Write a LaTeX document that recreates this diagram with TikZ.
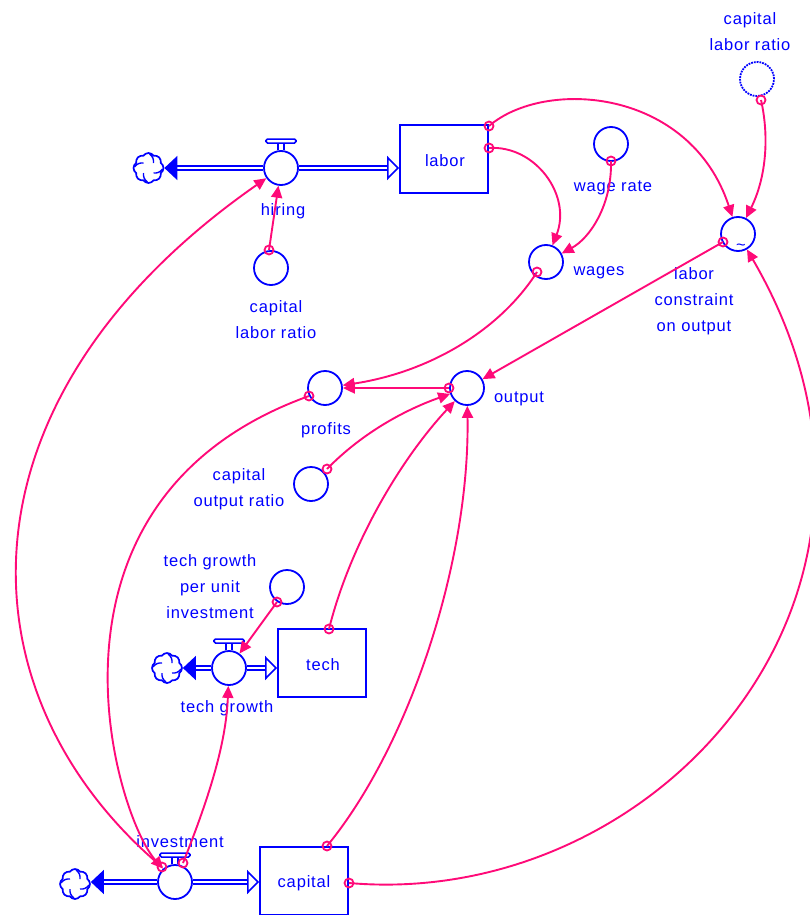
\documentclass[tikz,border=0pt]{standalone}
\usepackage{fontspec}
\setmainfont[LetterSpace=5]{Liberation Sans}
\usetikzlibrary{arrows.meta,shapes.symbols}
\definecolor{linkpink}{HTML}{FF0A78}
\tikzset{
  diagramtext/.style={text=blue,font=\fontsize{16.5}{26}\selectfont,align=center,inner sep=0pt},
  stock/.style={draw=blue,line width=1.8pt,minimum width=88pt,minimum height=68pt,inner sep=0pt},
  aux/.style={circle,draw=blue,line width=1.8pt,minimum size=34pt,inner sep=0pt},
  ghostaux/.style={aux,densely dotted},
  source/.style={cloud,cloud puffs=8,cloud puff arc=110,aspect=1,draw=blue,line width=1.7pt,minimum size=30pt,inner sep=0pt,
    path picture={
      \draw[blue,line width=1.4pt] (path picture bounding box.center) ++(1pt,14pt) to[bend left=30] ++(4pt,-9pt);
      \draw[blue,line width=1.4pt] (path picture bounding box.center) ++(14pt,-1pt) to[bend left=30] ++(-9pt,-4pt);
      \draw[blue,line width=1.4pt] (path picture bounding box.center) ++(-1pt,-14pt) to[bend left=30] ++(-4pt,9pt);
      \draw[blue,line width=1.4pt] (path picture bounding box.center) ++(-14pt,1pt) to[bend left=30] ++(9pt,4pt);
    }},
  tail/.style={circle,draw=linkpink,line width=1.8pt,minimum size=9pt,inner sep=0pt},
  link/.style={draw=linkpink,line width=1.9pt,-{Triangle[length=12pt,width=11pt]}},
  pipein/.style={draw=blue,line width=1.5pt,double=white,double distance=2.6pt,
    -{Triangle[open,fill=white,length=12pt,width=24pt,line width=1.6pt]}},
  pipeout/.style={draw=blue,line width=1.5pt,double=white,double distance=2.6pt,
    -{Triangle[length=13pt,width=24pt]}},
}
\newcommand{\valvetop}[1]{
  \draw[blue,line width=1.6pt] ([xshift=-3pt]#1.north) -- ++(0,7pt) ([xshift=3pt]#1.north) -- ++(0,7pt);
  \draw[blue,line width=1.6pt,fill=white,rounded corners=1.5pt] ([shift={(-15pt,7pt)}]#1.north) rectangle ([shift={(15pt,11pt)}]#1.north);
}
\begin{document}
\begin{tikzpicture}[x=1pt,y=-1pt]
\useasboundingbox (0,0) rectangle (809,915);
% stocks
\node[stock] (labor) at (444,159) {};
\node[stock] (tech) at (322,663) {};
\node[stock] (capital) at (304,881) {};
% flows
\node[aux] (hiring) at (281,168) {};
\node[aux] (techgrowth) at (229,668) {};
\node[aux] (investment) at (175,882) {};
\node[source] (hiringsink) at (148.5,168) {};
\node[source] (techsink) at (167,668) {};
\node[source] (investsink) at (75,884) {};
\valvetop{hiring}
\valvetop{techgrowth}
\valvetop{investment}
\draw[pipein] (hiring) -- (hiring -| labor.west);
\draw[pipein] (techgrowth) -- (techgrowth -| tech.west);
\draw[pipein] (investment) -- (investment -| capital.west);
\draw[pipeout] (hiring) -- (hiring -| hiringsink.east);
\draw[pipeout] (techgrowth) -- (techgrowth -| techsink.east);
\draw[pipeout] (investment) -- (investment -| investsink.east);
% auxiliaries
\node[aux] (hiringratio) at (271,268) {};
\node[aux] (wagerate) at (611,144) {};
\node[aux] (wages) at (546,262) {};
\node[aux] (constraint) at (738,234) {};
\node[ghostaux] (ghostratio) at (757,79) {};
\node[aux] (profits) at (325,388) {};
\node[aux] (output) at (467,388) {};
\node[aux] (outputratio) at (311,484) {};
\node[aux] (techperunit) at (287,587) {};
% labels
\node[diagramtext] (labortext) at (445,161) {labor};
\node[diagramtext] (techtext) at (323,665) {tech};
\node[diagramtext] (capitaltext) at (304,883) {capital};
\node[diagramtext] (hiringtext) at (283,211) {hiring};
\node[diagramtext] (hiringratiotext) at (276,320) {capital\\labor ratio};
\node[diagramtext] (wageratetext) at (613,188) {wage rate};
\node[diagramtext] (wagestext) at (599,273) {wages};
\node[diagramtext] (constrainttext) at (694,301) {labor\\constraint\\on output};
\node[diagramtext] (constraintmark) at (741,247) {\textasciitilde};
\node[diagramtext] (ghosttext) at (750,32) {capital\\labor ratio};
\node[diagramtext] (profitstext) at (326,430) {profits};
\node[diagramtext] (outputtext) at (519,399) {output};
\node[diagramtext] (outputratiotext) at (239,489) {capital\\output ratio};
\node[diagramtext] (perunittext) at (210,587) {tech growth\\per unit\\investment};
\node[diagramtext] (techgrowthtext) at (227,708) {tech growth};
\node[diagramtext] (investmenttext) at (180,842) {investment};
% connector tails
\node[tail] (labortop) at (489,126) {};
\node[tail] (laborside) at (489,148) {};
\node[tail] (wageratetail) at (611,161) {};
\node[tail] (ghosttail) at (761,100) {};
\node[tail] (capitalside) at (349,883) {};
\node[tail] (capitaltop) at (327,846) {};
\node[tail] (constrainttail) at (723,242) {};
\node[tail] (wagestail) at (537,272) {};
\node[tail] (outputtail) at (449,388) {};
\node[tail] (ratiotail) at (327,469) {};
\node[tail] (techtail) at (329,629) {};
\node[tail] (perunittail) at (277,602) {};
\node[tail] (profitstail) at (309,396) {};
\node[tail] (investleft) at (162,867) {};
\node[tail] (investright) at (183,863) {};
\node[tail] (hiringratiotail) at (269,250) {};
% connectors
\draw[link] (labortop.center) .. controls (545,78) and (690,88) .. (constraint);
\draw[link] (laborside.center) .. controls (535,145) and (572,195) .. (wages);
\draw[link] (wageratetail.center) .. controls (612,205) and (590,238) .. (wages);
\draw[link] (ghosttail.center) .. controls (770,140) and (765,180) .. (constraint);
\draw[link] (capitalside.center) .. controls (660,910) and (945,590) .. (constraint);
\draw[link] (constrainttail.center) -- (output);
\draw[link] (wagestail.center) .. controls (500,330) and (430,372) .. (profits);
\draw[link] (outputtail.center) -- (profits);
\draw[link] (ratiotail.center) .. controls (365,430) and (410,408) .. (output);
\draw[link] (techtail.center) .. controls (350,545) and (400,460) .. (output);
\draw[link] (capitaltop.center) .. controls (410,745) and (470,560) .. (output);
\draw[link] (perunittail.center) -- (techgrowth);
\draw[link] (profitstail.center) .. controls (20,500) and (115,815) .. (investment);
\draw[link] (investleft.center) .. controls (-42,695) and (-52,400) .. (hiring);
\draw[link] (investright.center) .. controls (208,800) and (226,745) .. (techgrowth);
\draw[link] (hiringratiotail.center) -- (hiring);
\end{tikzpicture}
\end{document}
